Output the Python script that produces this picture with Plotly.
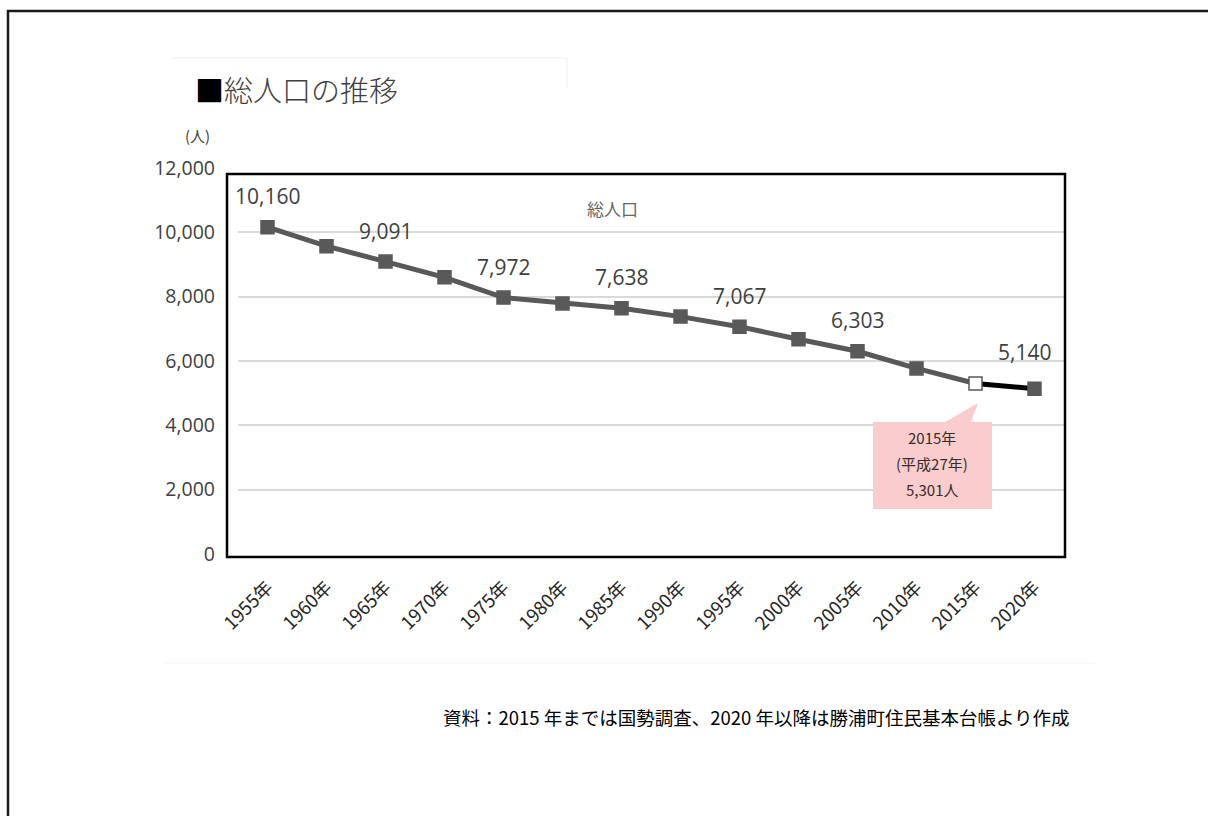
import plotly.graph_objects as go

# 総人口の推移（勝浦町）
years = ["1955年", "1960年", "1965年", "1970年", "1975年", "1980年", "1985年",
         "1990年", "1995年", "2000年", "2005年", "2010年", "2015年", "2020年"]
population = [10160, 9570, 9091, 8600, 7972, 7790, 7638,
              7380, 7067, 6675, 6303, 5770, 5301, 5140]
labeled_years = ["1955年", "1965年", "1975年", "1985年", "1995年", "2005年", "2020年"]
highlight_year = "2015年"
y_ticks = [0, 2000, 4000, 6000, 8000, 10000, 12000]

W, H = 1208, 816
X0, X1 = 238, 1064     # plot area, px
Y0, Y1 = 168, 554


def px(x):
    return (x - X0) / (X1 - X0)


def py(y):
    return (Y1 - y) / (Y1 - Y0)


JP = "Noto Sans CJK JP"
NUM = "Open Sans"
GRAY = "#595959"

hi = years.index(highlight_year)

fig = go.Figure()
# 実績（国勢調査）
fig.add_trace(go.Scatter(x=years[:hi + 1], y=population[:hi + 1], mode="lines",
                         line=dict(color=GRAY, width=5), hoverinfo="skip",
                         showlegend=False))
# 住民基本台帳
fig.add_trace(go.Scatter(x=years[hi:], y=population[hi:], mode="lines",
                         line=dict(color="#000000", width=5), hoverinfo="skip",
                         showlegend=False))
fig.add_trace(go.Scatter(
    x=years, y=population, mode="markers", showlegend=False,
    marker=dict(symbol="square", size=13,
                color=["#ffffff" if y == highlight_year else GRAY for y in years],
                line=dict(color=GRAY, width=1.5))))

annotations = []
for yr, v in zip(years, population):
    if yr in labeled_years:
        shift = 37 if yr == years[-1] else 31
        xs = -10 if yr == years[-1] else 0
        annotations.append(dict(x=yr, y=v, xref="x", yref="y", text=f"{v:,}",
                                showarrow=False, yshift=shift, xshift=xs,
                                xanchor="center", yanchor="middle",
                                font=dict(family=NUM, size=21, color="#404040")))


def note(x, y, text, size, color, anchor="center", weight="normal"):
    return dict(x=px(x), y=py(y), xref="paper", yref="paper", xanchor=anchor,
                yanchor="middle", showarrow=False, text=text,
                font=dict(family=JP, size=size, color=color, weight=weight))


# タイトル・単位・系列名・出典
annotations += [
    note(193, 89, "<span style='color:#000'>■</span>総人口の推移", 29, "#404040",
         anchor="left", weight=300),
    note(197, 136, "(人)", 15, "#404040"),
    note(612, 208, "総人口", 17, "#666666"),
    note(441, 717, "資料：2015 年までは国勢調査、2020 年以降は勝浦町住民基本台帳より作成",
         18.5, "#000000", anchor="left"),
]
# 吹き出しの文字
callout_lines = [highlight_year, "(平成27年)", f"{population[hi]:,}人"]
for ln, yy in zip(callout_lines, [437, 463, 489]):
    annotations.append(note(932, yy, ln, 15, "#3a2a2a"))

shapes = [
    # 外枠
    dict(type="rect", xref="paper", yref="paper", x0=px(8), x1=px(1240),
         y0=py(11), y1=py(850), line=dict(color="#1a1a1a", width=2.5)),
    # 薄い枠線
    dict(type="line", xref="paper", yref="paper", x0=px(172), x1=px(567),
         y0=py(58), y1=py(58), line=dict(color="#eeeeee", width=1)),
    dict(type="line", xref="paper", yref="paper", x0=px(567), x1=px(567),
         y0=py(58), y1=py(88), line=dict(color="#eeeeee", width=1)),
    dict(type="line", xref="paper", yref="paper", x0=px(165), x1=px(1095),
         y0=py(663), y1=py(663), line=dict(color="#f2f2f2", width=1)),
    # グラフ枠
    dict(type="rect", xref="paper", yref="paper", x0=px(227), x1=px(1065),
         y0=py(174), y1=py(557), line=dict(color="#000000", width=2.5)),
    # 吹き出し
    dict(type="path", xref="paper", yref="paper",
         path=(f"M {px(873)} {py(422)} L {px(945)} {py(422)} L {px(978)} {py(403)} "
               f"L {px(971)} {py(422)} L {px(992)} {py(422)} L {px(992)} {py(509)} "
               f"L {px(873)} {py(509)} Z"),
         fillcolor="#f9cdcd", line=dict(width=0), layer="above"),
]

fig.update_layout(
    width=W, height=H,
    margin=dict(l=X0, r=W - X1, t=Y0, b=H - Y1, pad=0),
    paper_bgcolor="#ffffff", plot_bgcolor="#ffffff",
    font=dict(family=NUM),
    annotations=annotations, shapes=shapes,
    xaxis=dict(type="category", categoryorder="array", categoryarray=years,
               range=[-0.5, len(years) - 0.5], showgrid=False, showline=False,
               zeroline=False, ticks="", tickangle=-45, ticklabelstandoff=18,
               tickfont=dict(family=JP, size=18.5, color="#262626")),
    yaxis=dict(range=[0, 12000], tickvals=y_ticks, tickformat=",",
               showgrid=True, gridcolor="#d9d9d9", gridwidth=2,
               zeroline=False, showline=False, ticks="", ticklabelstandoff=22,
               tickfont=dict(family=NUM, size=19.5, color="#404040")),
)

fig.write_html("out.html")
